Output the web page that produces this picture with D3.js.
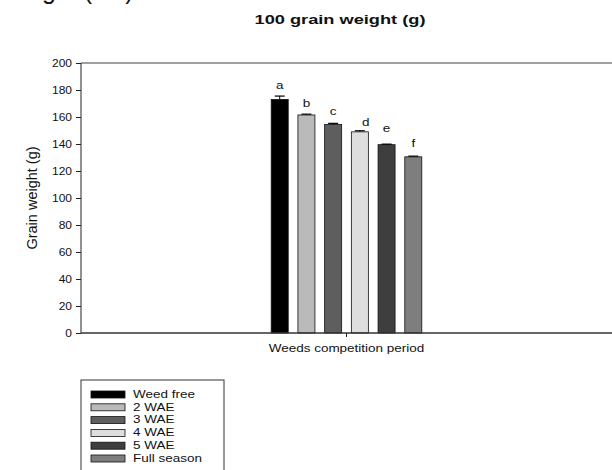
<!DOCTYPE html>
<html>
<head>
<meta charset="utf-8">
<script src="https://cdn.jsdelivr.net/npm/d3@7"></script>
<style>
  html, body { margin: 0; padding: 0; background: #fff; }
  svg { display: block; }
  text { font-family: "Liberation Sans", Arial, sans-serif; fill: #111; }
</style>
</head>
<body>
<div id="chart"></div>
<script>
// ---- data ----
const groupLabel = ["Weeds competition period"];
const categories = ["Weed free", "2 WAE", "3 WAE", "4 WAE", "5 WAE", "Full season"];
const values = [173, 161.5, 154.5, 149, 139.5, 130.5];
const errors = [2.5, 0.6, 0.8, 0.8, 0.4, 0.5];
const letters = ["a", "b", "c", "d", "e", "f"];
const colors = ["#000000", "#bababa", "#5e5e5e", "#dedede", "#3e3e3e", "#7e7e7e"];
const yTicks = [0, 20, 40, 60, 80, 100, 120, 140, 160, 180, 200];
const chartTitle = "100 grain weight (g)";
const yLabel = "Grain weight (g)";

(function () {
const W = 612, H = 470;
const SX = 1.35; // horizontal stretch of the text in the picture

const svg = d3.select("#chart").append("svg").attr("width", W).attr("height", H);

function stext(x, yy, str, opts = {}) {
  const g = svg.append("g").attr("transform", `translate(${x},${yy}) scale(${opts.sx || SX},1)` + (opts.rot ? ` rotate(${opts.rot})` : ""));
  return g.append("text")
    .attr("text-anchor", opts.anchor || "middle")
    .attr("font-size", opts.size || 10)
    .attr("font-weight", opts.weight || "normal")
    .attr("dominant-baseline", opts.baseline || "auto")
    .text(str);
}

// cropped fragment of surrounding document text (only its lower edge shows)
svg.append("text").attr("x", 42).attr("y", -1)
  .attr("font-family", "'Open Sans', 'Noto Sans', sans-serif")
  .attr("font-size", 25).attr("fill", "#222").text("ght (cm)");

const pl = 81, pr = 612, pt = 63, pb = 333;

const y = d3.scaleLinear().domain([0, 200]).range([pb, pt]);
const xOuter = d3.scaleBand().domain(groupLabel).range([pl, pr]);
const groupCenter = xOuter(groupLabel[0]) + xOuter.bandwidth() / 2;
const groupWidth = 150.6;
const x = d3.scaleBand().domain(categories)
  .range([groupCenter - groupWidth / 2, groupCenter + groupWidth / 2])
  .paddingInner(0.363).paddingOuter(0);

stext(340, 24, chartTitle, { size: 13.5, weight: "bold" });

svg.append("line").attr("x1", pl).attr("x2", pr).attr("y1", pt).attr("y2", pt)
  .attr("stroke", "#808080").attr("stroke-width", 1.5);

// label placement nudges (style only)
const labelGap = [10, 11, 11.5, 8.5, 15.5, 13];
const labelDx = [0, 0, 0, 6, 0, 0];

categories.forEach((c, i) => {
  svg.append("rect")
    .attr("x", x(c)).attr("y", y(values[i]))
    .attr("width", x.bandwidth()).attr("height", y(0) - y(values[i]))
    .attr("fill", colors[i]).attr("stroke", "#111").attr("stroke-width", 0.8);
  const cx = x(c) + x.bandwidth() / 2;
  const yt = y(values[i] + errors[i]);
  svg.append("line").attr("x1", cx).attr("x2", cx).attr("y1", y(values[i])).attr("y2", yt)
    .attr("stroke", "#000").attr("stroke-width", 1);
  svg.append("line").attr("x1", cx - 5).attr("x2", cx + 5).attr("y1", yt).attr("y2", yt)
    .attr("stroke", "#000").attr("stroke-width", 1.2);
  stext(cx + labelDx[i], yt - labelGap[i], letters[i], { size: 10, baseline: "central" });
});

const yAxis = d3.axisLeft(y).tickValues(yTicks).tickSize(5).tickPadding(6);
const gy = svg.append("g").attr("transform", `translate(${pl},0)`).call(yAxis);
gy.select(".domain").attr("stroke", "#222").attr("d", `M0,${pt}V${pb}`);
gy.selectAll(".tick line").attr("stroke", "#222");
gy.selectAll(".tick text").remove();
yTicks.forEach(t => {
  stext(pl - 9, y(t), String(t), { size: 10, anchor: "end", baseline: "central", sx: 1.2 });
});

const xAxis = d3.axisBottom(xOuter).tickSize(4).tickFormat("");
const gx = svg.append("g").attr("transform", `translate(0,${pb})`).call(xAxis);
gx.select(".domain").attr("stroke", "#333").attr("stroke-width", 1.3).attr("d", `M${pl},0H${pr}`);
gx.selectAll(".tick line").attr("stroke", "#222");
stext(groupCenter, 352, groupLabel[0], { size: 10 });

stext(32, (pt + pb) / 2, yLabel, { size: 14.5, rot: -90, sx: 1, baseline: "central" });

const lx = 81, ly = 380;
svg.append("rect").attr("x", lx).attr("y", ly).attr("width", 143).attr("height", 110)
  .attr("fill", "none").attr("stroke", "#333").attr("stroke-width", 1);
categories.forEach((c, i) => {
  const cy = 394.5 + i * 12.8;
  svg.append("rect").attr("x", 91).attr("y", cy - 3.5).attr("width", 34).attr("height", 7)
    .attr("fill", colors[i]).attr("stroke", "#111").attr("stroke-width", 0.8);
  stext(133, cy, c, { size: 10, anchor: "start", baseline: "central" });
});
})();
</script>
</body>
</html>
